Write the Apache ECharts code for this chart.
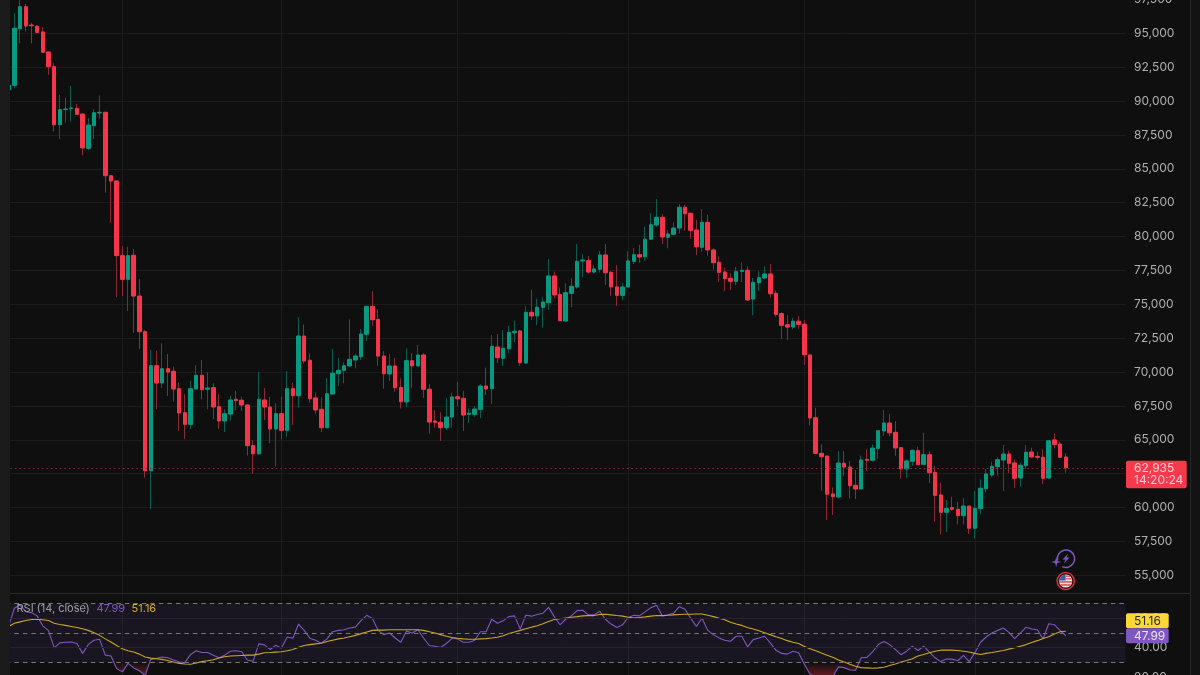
<!DOCTYPE html>
<html><head><meta charset="utf-8">
<style>html,body{margin:0;padding:0;background:#0f0f0f}#c{width:1200px;height:675px}</style>
<script src="https://cdn.jsdelivr.net/npm/echarts@6/dist/echarts.min.js"></script>
</head><body><div id="c"></div>
<script>
// Daily candles: [open, close, low, high]
const candles = [
[90820,91160,90780,91180],[91160,95370,90940,96480],[95340,96960,94260,97450],[96960,95540,95120,97160],[95610,95560,94260,95780],
[95520,95070,95020,95610],[95100,93600,93580,95440],[93620,92540,91940,93620],[92540,88250,87740,92790],[88250,89360,87200,90450],
[89370,89410,88400,90250],[89450,89490,88480,91110],[89460,89020,88970,89780],[89040,86540,86000,89080],[86510,88230,86390,88730],
[88180,89140,87200,89410],[89120,89170,88700,90420],[89170,84490,83240,89190],[84490,84100,81020,84510],[84100,78590,75540,84100],
[78590,76840,75610,79300],[76840,78590,74510,79250],[78620,75610,72880,79080],[75610,72980,71700,76850],[72980,62720,62200,73100],
[62720,70470,59890,71630],[70470,69190,67270,71580],[69190,70250,68820,72120],[70250,70000,68230,71330],[70060,68750,67810,70400],
[68770,66980,65670,69210],[67000,66140,65060,68360],[66140,68770,65800,69360],[68750,69760,68710,70500],[69760,68700,67990,70890],
[68730,68820,67250,70000],[68850,67420,66530,69170],[67440,66390,65800,68360],[66390,66930,65570,67250],[66900,67940,66410,68250],
[67990,67890,67200,68620],[67920,67570,67150,68180],[67570,64570,63830,67570],[64570,63970,62480,64960],[63970,67990,63880,70000],
[67940,67420,66460,68820],[67420,65800,64740,68180],[65800,66930,63020,67690],[66930,65700,65040,68180],[65700,68770,65230,70080],
[68770,68250,66090,69210],[68250,72660,67370,74040],[72660,70820,70640,73520],[70870,68030,67740,71380],[68090,67200,66900,68500],
[67250,65890,65570,68140],[65890,68400,65850,69560],[68380,69910,68340,71720],[69880,70130,68970,71040],[70130,70470,69170,70720],
[70450,70940,70400,73890],[70890,71180,70280,71380],[71130,72810,70890,73180],[72790,74850,72290,74870],[74850,73860,73400,75980],
[73890,71180,70450,74630],[71180,69880,68770,71550],[69860,70450,69340,71330],[70450,68850,68550,71060],[68870,67810,67320,69540],
[67790,70840,67420,71750],[70840,70450,68850,71380],[70450,71260,70410,72000],[71260,68730,68090,71380],[68730,66310,65450,69100],
[66390,66290,65890,67200],[66290,65890,64910,67030],[65890,66680,65700,68060],[66680,68160,65890,68480],[68180,68030,67490,69270],
[68060,66830,65650,68620],[66880,66960,66240,67320],[66880,67270,66700,67490],[67250,68970,66590,69100],[68970,68750,68310,70320],
[68770,71900,67640,72730],[71850,71060,70670,72810],[71010,71750,70450,73100],[71720,72930,71380,73420],[72900,73010,72200,73790],
[73030,70690,70470,73100],[70670,74410,70590,74870],[74410,74140,73840,76080],[74140,74780,73470,75410],[74780,75170,73270,75520],
[75120,77090,74580,78340],[77090,75690,75440,77410],[75710,73790,73770,76230],[73770,75860,73690,76550],[75810,76330,74780,76920],
[76280,78170,76150,79450],[78200,78270,76990,78690],[78220,77380,77260,78560],[77380,77610,77260,77880],[77580,78640,77360,78930],
[78640,77330,76420,79450],[77360,76280,75610,77460],[76280,75660,74870,77880],[75660,76280,75300,76590],[76280,78200,76230,78910],
[78170,78660,77970,79150],[78660,78490,78070,79380],[78510,79800,78200,80730],[79800,80870,79750,81720],[80850,81420,80730,82770],
[81420,79970,79450,81660],[79940,80190,79130,80480],[80170,80630,80140,81050],[80630,82160,80240,82400],[82160,81690,80430,82330],
[81720,80460,79820,81740],[80480,79250,78640,81220],[79210,81050,78880,82030],[81050,79010,78590,81610],[79010,78070,77580,79130],
[78100,77360,76650,78540],[77380,76890,75980,77700],[76920,76700,76060,77290],[76700,77410,76420,77750],[77430,77510,76650,78100],
[77510,75320,75240,77800],[75390,76620,74190,76940],[76590,76960,75980,77440],[76940,77240,76840,77800],[77240,75780,75490,77970],
[75810,74260,74090,76030],[74310,73450,72440,74410],[73490,73320,72370,74190],[73320,73750,73150,73990],[73750,73520,73200,74140],
[73530,71270,70520,73840],[71260,66610,66070,71260],[66630,64000,63970,67370],[64000,63750,61240,64670],[63800,60980,59080,63800],
[61000,60800,59450,61470],[60780,63290,60680,64170],[63270,62990,62350,64170],[62990,61610,60680,63440],[61640,61370,60630,62770],
[61370,63510,61350,63830],[63560,63490,62720,64300],[63490,64390,63380,64670],[64370,65670,63600,65720],[65650,66240,65300,67200],
[66240,65520,65280,66900],[65550,64400,63800,66370],[64420,62850,62130,64430],[62850,63440,62200,63560],[63410,64220,63090,64300],
[64200,63160,63140,64490],[63190,63900,63180,65520],[63900,62570,61810,64170],[62600,60900,58980,63090],[60930,59650,58010,61830],
[59650,59940,58200,60560],[59990,59870,59770,60800],[59870,59400,58760,60430],[59400,60110,58760,60680],[60110,58470,58050,60110],
[58470,59940,57700,61220],[59920,61420,59500,62080],[61390,62480,61130,62850],[62400,63040,62230,63380],[63020,63530,62350,63710],
[63510,63950,61220,64620],[63950,63270,62570,64200],[63290,62160,61440,63560],[62180,63120,61540,63310],[63090,64080,62850,64620],
[64100,63730,63710,64420],[63780,63710,63530,64120],[63710,62160,61720,64300],[62180,64930,62130,64950],[64990,64640,64370,65480],
[64690,63710,63680,64860],[63730,62935,62570,64000]
];
const rsiValues = [
54.9,66.9,69.1,64.6,63.9,61.7,54.9,51.6,39.9,43.3,43.7,43.9,42.8,36.1,42.1,45.1,45.7,34.9,34.3,25.7,
23.5,29.3,26.2,24.2,21.2,32.0,32.7,33.6,33.1,31.6,30.2,29.8,35.4,37.9,36.7,36.7,34.9,33.1,34.9,37.6,
37.9,37.2,31.6,30.7,42.6,41.9,38.8,41.7,39.7,47.3,46.4,56.1,51.8,46.4,45.1,43.0,46.0,50.9,51.8,52.2,
53.4,54.0,58.5,62.1,59.9,51.8,48.9,50.0,46.6,43.7,51.3,50.0,52.2,46.6,41.5,41.0,40.1,42.8,46.4,46.0,
43.7,43.7,45.1,50.9,50.9,59.4,56.7,58.3,61.2,61.7,52.7,62.1,61.5,62.6,63.5,67.5,61.2,55.6,59.4,61.7,
65.3,65.5,62.4,62.4,64.8,59.4,56.1,53.8,55.6,60.6,62.1,61.7,64.6,67.3,68.9,61.7,62.4,63.5,68.0,66.2,
60.1,54.5,60.1,51.8,48.9,46.6,45.1,44.4,47.8,47.8,40.6,45.5,46.6,47.8,43.3,38.3,36.1,35.6,37.6,36.5,
28.7,21.9,19.7,19.7,19.7,20.3,26.9,26.4,24.8,24.6,33.1,33.4,37.2,42.1,44.2,42.1,38.8,35.2,37.6,41.0,
38.1,41.0,37.0,33.1,30.5,32.2,32.2,31.1,34.7,30.5,36.5,43.7,47.3,50.0,51.8,53.4,50.4,46.2,50.0,54.0,
52.7,52.2,46.0,56.3,55.6,51.8,47.99
];
const rsiAverage = [
54.5,56.7,57.6,58.5,59.2,59.4,59.0,58.5,56.7,55.8,55.2,54.5,53.8,52.9,51.8,50.2,48.4,46.0,43.9,41.5,
39.2,37.9,37.0,35.6,33.6,32.9,32.5,32.0,31.3,30.2,29.3,28.9,28.7,29.6,30.5,31.1,31.8,32.9,33.8,34.3,
34.5,34.7,34.9,34.9,35.6,36.5,36.7,37.0,37.2,37.9,38.8,40.3,41.5,42.1,42.6,43.0,44.2,45.1,46.0,46.6,
47.5,48.4,49.6,50.7,51.8,52.0,52.0,52.2,52.2,52.2,52.2,52.2,52.2,51.8,50.9,50.0,48.9,47.8,46.9,46.4,
46.0,45.7,45.7,46.0,46.2,46.6,47.1,48.2,49.6,50.7,51.8,52.9,54.0,54.9,56.3,57.9,59.2,59.7,60.3,60.8,
61.2,61.7,61.9,61.9,62.6,62.8,62.4,61.9,61.5,60.8,60.3,60.6,61.0,61.5,61.9,61.9,62.1,62.4,62.6,62.8,
62.8,63.0,63.0,62.1,61.2,60.1,59.0,57.4,56.1,55.2,53.8,52.7,51.6,50.2,48.9,47.5,46.2,44.8,43.7,42.8,
40.8,39.2,37.9,36.3,34.9,33.4,31.6,30.2,28.7,27.3,26.4,26.2,26.0,26.2,26.6,27.8,28.9,30.2,31.3,32.5,
34.3,35.4,36.5,37.6,38.3,38.3,38.3,38.1,37.6,37.0,36.1,35.4,36.1,36.7,37.4,38.1,39.0,39.9,41.0,42.1,
43.5,44.8,46.2,47.5,49.3,50.9,51.16
];
const lastPrice = 62935;
const countdown = '14:20:24';
const rsiBands = [70, 50, 30];
const rsiMinorLevels = [60, 40];
const priceTickStep = 2500;
const firstDay = '2026-01-12';
const barsAhead = 10;

// Dates (one per candle, plus the empty room to the right)
const categories = [];
{
  const d = new Date(firstDay + 'T00:00:00Z');
  for (let i = 0; i < candles.length + barsAhead; i++) {
    categories.push(d.toISOString().slice(0, 10));
    d.setUTCDate(d.getUTCDate() + 1);
  }
}

const RED = '#f6354a', GREEN = '#089981', RED_WICK = '#8c2a35', GREEN_WICK = '#0c5f50';
const PURPLE = '#7e57c2', YELLOW = '#cba722', AXIS_TEXT = '#b0b0b0', GRID = '#1c1c1c';
const FONT = 'Inter, "Open Sans", sans-serif';
const bodies = candles.map(([o, c]) => [o, c, Math.min(o, c), Math.max(o, c)]);
const oversold = rsiValues.map(v => Math.min(v, 30));

const txt = (text, x, y, fill, size = 12, extra = {}) => ({
  type: 'text', z: 103,
  style: { text, x, y, fill, font: `${size}px ${FONT}`, verticalAlign: 'middle', align: 'left', ...extra }
});
const rect = (x, y, width, height, fill, r = 0, z = 102) => ({
  type: 'rect', z, shape: { x, y, width, height, r }, style: { fill }
});

const chart = echarts.init(document.getElementById('c'));
chart.setOption({
  animation: false,
  backgroundColor: '#0f0f0f',
  textStyle: { fontFamily: FONT },
  grid: [
    { left: 5.86, width: 1119.6, top: -0.57, height: 575.87, outerBoundsMode: 'none' },
    { left: 5.86, width: 1119.6, top: 593, height: 84, outerBoundsMode: 'none' },
    { left: 8.7, width: 1113.9, top: 0, height: 675, outerBoundsMode: 'none' }
  ],
  xAxis: [
    { type: 'category', gridIndex: 0, data: categories, show: false },
    { type: 'category', gridIndex: 1, data: categories, show: false },
    {
      type: 'category', gridIndex: 2, data: categories, boundaryGap: false,
      axisLine: { show: false }, axisTick: { show: false }, axisLabel: { show: false },
      splitLine: {
        show: true, interval: i => categories[i].endsWith('-01'),
        lineStyle: { color: GRID, width: 1 }
      }
    }
  ],
  yAxis: [
    {
      type: 'value', gridIndex: 0, position: 'right', min: 55000, max: 97500, interval: priceTickStep,
      axisLine: { show: false }, axisTick: { show: false },
      axisLabel: { color: AXIS_TEXT, fontSize: 12, margin: 8.6, fontFamily: FONT,
        formatter: v => v.toLocaleString('en-US') },
      splitLine: { show: true, lineStyle: { color: GRID, width: 1 } }
    },
    {
      type: 'value', gridIndex: 1, position: 'right', min: 20, max: 77.3, interval: 20,
      axisLine: { show: false }, axisTick: { show: false }, splitLine: { show: false },
      axisLabel: { color: AXIS_TEXT, fontSize: 12, margin: 8.6, fontFamily: FONT, showMaxLabel: false,
        formatter: v => v.toFixed(2) }
    },
    { type: 'value', gridIndex: 2, min: 0, max: 1, show: false }
  ],
  series: [
    {
      name: 'Wicks', type: 'candlestick', xAxisIndex: 0, yAxisIndex: 0, data: candles, barWidth: 2, silent: true,
      itemStyle: { color: GREEN_WICK, color0: RED_WICK, borderColor: GREEN_WICK, borderColor0: RED_WICK, borderWidth: 1 },
      markLine: {
        silent: true, symbol: 'none', label: { show: false },
        lineStyle: { color: '#8c2a35', type: [1.5, 3], width: 1 },
        data: [{ yAxis: lastPrice }]
      }
    },
    {
      name: 'Bodies', type: 'candlestick', xAxisIndex: 0, yAxisIndex: 0, data: bodies, barWidth: 4, silent: true,
      itemStyle: { color: GREEN, color0: RED, borderColor: GREEN, borderColor0: RED, borderWidth: 1 }
    },
    {
      name: 'RSI band', type: 'line', xAxisIndex: 1, yAxisIndex: 1, data: [], silent: true,
      markArea: {
        silent: true, itemStyle: { color: 'rgba(126,87,194,0.1)' },
        data: [[{ yAxis: rsiBands[2] }, { yAxis: rsiBands[0] }]]
      },
      markLine: {
        silent: true, symbol: 'none', label: { show: false }, animation: false,
        data: [
          ...rsiBands.map(v => ({ yAxis: v, lineStyle: { color: '#787878', type: [4.5, 4], width: 1 } })),
          ...rsiMinorLevels.map(v => ({ yAxis: v, lineStyle: { color: '#26222f', type: 'solid', width: 1 } }))
        ]
      }
    },
    {
      name: 'Oversold', type: 'line', xAxisIndex: 1, yAxisIndex: 1, data: oversold, symbol: 'none', silent: true,
      lineStyle: { width: 0 },
      areaStyle: {
        origin: 30,
        color: { type: 'linear', x: 0, y: 0, x2: 0, y2: 1, colorStops: [
          { offset: 0, color: 'rgba(242,54,69,0)' }, { offset: 1, color: 'rgba(242,54,69,0.6)' }] }
      }
    },
    {
      name: 'RSI', type: 'line', xAxisIndex: 1, yAxisIndex: 1, data: rsiValues, symbol: 'none', silent: true,
      lineStyle: { color: PURPLE, width: 1.1 }
    },
    {
      name: 'RSI-based MA', type: 'line', xAxisIndex: 1, yAxisIndex: 1, data: rsiAverage, symbol: 'none', silent: true,
      lineStyle: { color: YELLOW, width: 1.1 }
    }
  ],
  graphic: { elements: [
    rect(0, 0, 10, 675, '#1b1b1b', 0, 100),
    rect(1190, 0, 10, 675, '#131313', 0, 100),
    rect(1190, 0, 1, 675, '#282828', 0, 101),
    rect(10, 593, 1180, 1, '#2a2a2a', 0, 101),

    rect(1126, 460.7, 60.7, 27.6, '#f6394b', 2),
    txt(lastPrice.toLocaleString('en-US'), 1134, 467.9, '#ffd3d7'),
    txt(countdown, 1134, 480.6, '#ffd3d7'),

    rect(1126, 613.3, 42.7, 15, '#fdd835', 2),
    txt(rsiAverage[rsiAverage.length - 1].toFixed(2), 1134, 621, '#2a2a2a'),
    rect(1126, 628.3, 42.7, 15, PURPLE, 2),
    txt(rsiValues[rsiValues.length - 1].toFixed(2), 1134, 636, '#ece6f7'),

    txt('RSI (14, close)', 16.5, 608.2, '#9f9f9f', 11),
    txt(rsiValues[rsiValues.length - 1].toFixed(2), 96.5, 608.2, PURPLE, 11),
    txt(rsiAverage[rsiAverage.length - 1].toFixed(2), 131.5, 608.2, '#d4b01f', 11),

    { type: 'arc', z: 102, shape: { cx: 1066, cy: 558.7, r: 8.7, startAngle: 2.9, endAngle: 2.0, clockwise: true },
      style: { stroke: PURPLE, lineWidth: 1.5, fill: 'none' } },
    { type: 'polygon', z: 102, shape: { points: [[1068.2, 553.5], [1062.6, 559.6], [1065.6, 559.6], [1063.6, 564], [1069.6, 557.4], [1066.5, 557.4]] },
      style: { fill: PURPLE } },
    { type: 'polygon', z: 102, shape: { points: [[1056.2, 557], [1057.3, 560.9], [1061.2, 562], [1057.3, 563.1], [1056.2, 567], [1055.1, 563.1], [1051.2, 562], [1055.1, 560.9]] },
      style: { fill: PURPLE } },

    { type: 'circle', z: 102, shape: { cx: 1065.7, cy: 581, r: 8.6 }, style: { fill: '#140d0e', stroke: '#e02d3c', lineWidth: 1.5 } },
    { type: 'circle', z: 102, shape: { cx: 1065.7, cy: 581, r: 6.6 }, style: { fill: '#efe7e7' } },
    rect(1059.4, 581.2, 12.6, 1.5, '#dd4a53', 0, 103),
    rect(1060.6, 584.2, 10.2, 1.5, '#dd4a53', 0, 103),
    rect(1065.8, 575.6, 4, 1.3, '#dd4a53', 0, 103),
    rect(1065.8, 578.2, 5.8, 1.3, '#dd4a53', 0, 103),
    { type: 'rect', z: 104, shape: { x: 1059.6, y: 575, width: 6, height: 5.4, r: [5, 0, 0, 0] }, style: { fill: '#3b5aa8' } }
  ] }
});
</script></body></html>
